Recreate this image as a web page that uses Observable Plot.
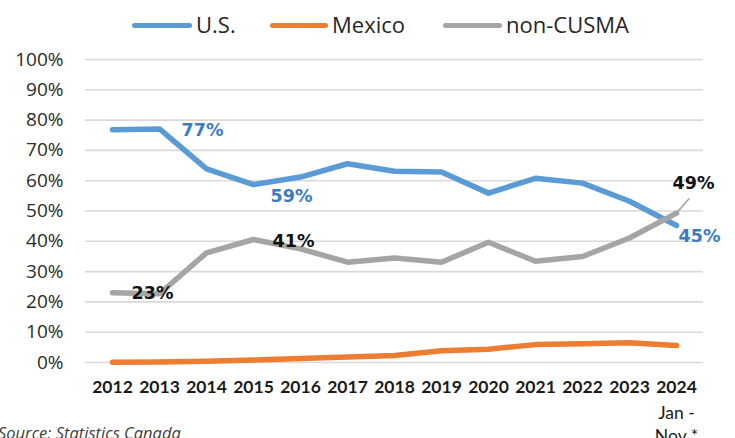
<!DOCTYPE html>
<html>
<head>
<meta charset="utf-8">
<script src="https://cdn.jsdelivr.net/npm/d3@7"></script>
<script src="https://cdn.jsdelivr.net/npm/@observablehq/plot@0.6"></script>
<style>
  html, body { margin: 0; padding: 0; background: #fff; }
  #wrap { position: relative; width: 735px; height: 438px; overflow: hidden; background: #fff; }
  #chart { position: absolute; left: 0; top: 0; }
  .legend-item { position: absolute; top: 11px; height: 26px; display: flex; align-items: center;
    font-family: "Open Sans", sans-serif; font-size: 22px; color: #262626; white-space: nowrap; }
  .legend-swatch { display: inline-block; height: 5px; border-radius: 3px; margin-right: 4px; margin-top: 3px; }
  #caption { position: absolute; left: -2px; top: 421px; font-family: "Open Sans", sans-serif;
    font-style: italic; font-size: 16.5px; color: #404040; white-space: nowrap; }
</style>
</head>
<body>
<div id="wrap">
  <div id="chart"></div>
  <div id="legend"></div>
  <div id="caption"></div>
</div>
<script>
// ---- data ----
const years = ["2012","2013","2014","2015","2016","2017","2018","2019","2020","2021","2022","2023","2024"];
const usShare       = [76.8, 77.1, 63.9, 58.7, 61.2, 65.6, 63.1, 62.9, 55.9, 60.8, 59.2, 53.2, 45.2];
const mexicoShare   = [0.1, 0.2, 0.4, 0.8, 1.3, 1.8, 2.3, 3.9, 4.4, 5.9, 6.2, 6.5, 5.6];
const nonCusmaShare = [23.0, 22.7, 36.2, 40.6, 37.5, 33.1, 34.5, 33.1, 39.7, 33.4, 35.0, 41.1, 49.3];
const seriesNames = ["U.S.", "Mexico", "non-CUSMA"];
const seriesColors = ["#5B9BD5", "#ED7D31", "#A5A5A5"];
const yTicks = [0, 10, 20, 30, 40, 50, 60, 70, 80, 90, 100];
const noteYear = "2024";
const xTickNote = "Jan -\nNov *";
const sourceText = "Source: Statistics Canada";

const seriesValues = [usShare, mexicoShare, nonCusmaShare];
const data = seriesNames.flatMap((s, i) => years.map((year, j) => ({series: s, year, value: seriesValues[i][j]})));
const pick = (s, y) => data.filter(d => d.series === s && d.year === y);
const pct = d => Math.round(d.value) + "%";

const labelFont = "'DejaVu Sans', Verdana, sans-serif";
const blueText = "#3A7CC3";
const darkText = "#111111";
const label = (s, y, dx, dy, fill) => Plot.text(pick(s, y), {
  x: "year", y: "value", text: pct, dx, dy, fill,
  fontFamily: labelFont, fontWeight: "bold", fontSize: 17.5
});

const chart = Plot.plot({
  width: 735,
  height: 438,
  marginTop: 59,
  marginBottom: 76,
  marginLeft: 85,
  marginRight: 32,
  style: {fontFamily: "'Open Sans', sans-serif", background: "transparent"},
  x: {type: "point", domain: years, padding: 0.46, label: null},
  y: {domain: [0, 100], label: null},
  color: {domain: seriesNames, range: seriesColors},
  marks: [
    Plot.ruleY(yTicks, {stroke: "#d9d9d9", strokeWidth: 1.6}),
    Plot.axisY(yTicks, {tickSize: 0, tickPadding: 22, tickFormat: d => d + "%", fontSize: 19, fontWeight: 500,
      color: "#2b2b2b", label: null, fontFamily: "'Open Sans', sans-serif"}),
    Plot.axisX({tickSize: 0, tickPadding: 18, fontSize: 17.5, fontWeight: "bold", color: "#1a1a1a",
      label: null, fontFamily: "'Liberation Sans Narrow', Lato, sans-serif"}),
    Plot.text([xTickNote], {x: () => noteYear, frameAnchor: "bottom", lineAnchor: "top", dy: 41,
      fontSize: 17.5, lineHeight: 1.27, fill: "#1a1a1a", fontFamily: "'Liberation Sans Narrow', Lato, sans-serif"}),
    Plot.line(data, {x: "year", y: "value", z: "series", stroke: "series", strokeWidth: 5.5,
      strokeLinejoin: "round", strokeLinecap: "round"}),
    Plot.vector(pick("non-CUSMA", "2024"), {x: "year", y: "value", length: 19, rotate: 41, anchor: "start",
      r: 0, stroke: "#A5A5A5", strokeWidth: 1.6}),
    label("U.S.", "2013", 43, 2, blueText),
    label("U.S.", "2015", 38, 12, blueText),
    label("U.S.", "2024", 23, 11, blueText),
    label("non-CUSMA", "2013", -7, 0, darkText),
    label("non-CUSMA", "2015", 40, 2, darkText),
    label("non-CUSMA", "2024", 17, -30, darkText)
  ]
});
document.getElementById("chart").appendChild(chart);

// legend (HTML, above chart area)
const legendLefts = [132, 270, 443];
const swatchWidths = [60, 58, 59];
const legend = document.getElementById("legend");
seriesNames.forEach((s, i) => {
  const item = document.createElement("div");
  item.className = "legend-item";
  item.style.left = legendLefts[i] + "px";
  const sw = document.createElement("span");
  sw.className = "legend-swatch";
  sw.style.width = swatchWidths[i] + "px";
  sw.style.background = seriesColors[i];
  item.appendChild(sw);
  item.appendChild(document.createTextNode(s));
  legend.appendChild(item);
});
document.getElementById("caption").textContent = sourceText;
</script>
</body>
</html>
